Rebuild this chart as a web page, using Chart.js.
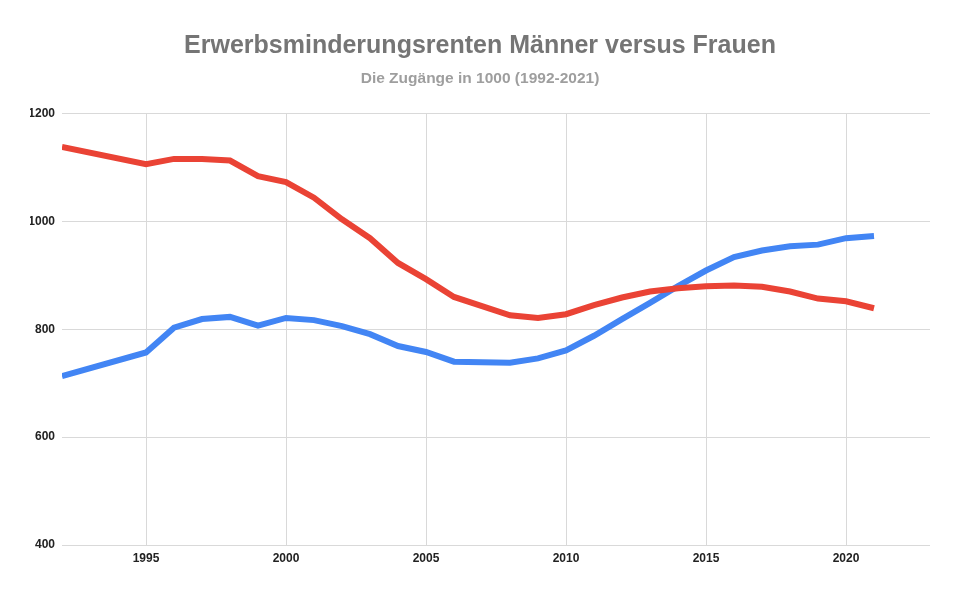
<!DOCTYPE html>
<html>
<head>
<meta charset="utf-8">
<script src="https://cdn.jsdelivr.net/npm/chart.js@4.4.1/dist/chart.umd.min.js"></script>
<style>
  html, body { margin: 0; padding: 0; background: #fff; }
  #wrap { width: 960px; height: 594px; }
</style>
</head>
<body>
<div id="wrap"><canvas id="c" width="960" height="594"></canvas></div>
<script>
const years = [1992, 1995, 1996, 1997, 1998, 1999, 2000, 2001, 2002, 2003, 2004, 2005, 2006,
  2007, 2008, 2009, 2010, 2011, 2012, 2013, 2014, 2015, 2016, 2017, 2018, 2019, 2020, 2021];
const maenner = [1138, 1106, 1116, 1116, 1113, 1084, 1073, 1044, 1004, 969, 923, 893, 860,
  843, 826, 821, 828, 845, 859, 870, 876, 880, 881, 879, 870, 857, 852, 839];
const frauen = [713, 757, 803, 819, 823, 807, 821, 817, 806, 791, 769, 758, 740,
  739, 738, 746, 761, 788, 819, 849, 880, 909, 934, 946, 954, 957, 969, 973];
const xTicks = [1995, 2000, 2005, 2010, 2015, 2020];
const yTicks = [400, 600, 800, 1000, 1200];

const toPoints = vals => years.map((y, i) => ({ x: y, y: vals[i] }));
const tickFont = { family: 'Liberation Sans, Arial, sans-serif', size: 12, weight: 'bold' };

new Chart(document.getElementById('c'), {
  type: 'line',
  data: {
    datasets: [
      {
        label: 'Männer',
        data: toPoints(maenner),
        borderColor: '#EA4335',
        borderWidth: 6,
        pointRadius: 0,
        tension: 0
      },
      {
        label: 'Frauen',
        data: toPoints(frauen),
        borderColor: '#4285F4',
        borderWidth: 6,
        pointRadius: 0,
        tension: 0
      }
    ]
  },
  options: {
    responsive: false,
    animation: false,
    // symmetric side padding keeps the title centred on the canvas
    layout: { padding: { left: 30, right: 30, top: 0, bottom: 0 } },
    plugins: {
      legend: { display: false },
      tooltip: { enabled: false },
      title: {
        display: true,
        text: 'Erwerbsminderungsrenten Männer versus Frauen',
        color: '#757575',
        font: { family: 'Liberation Sans, Arial, sans-serif', size: 25, weight: 'bold' },
        padding: { top: 31, bottom: 8 }
      },
      subtitle: {
        display: true,
        text: 'Die Zugänge in 1000 (1992-2021)',
        color: '#9e9e9e',
        font: { family: 'Liberation Sans, Arial, sans-serif', size: 15.5, weight: 'bold' },
        padding: { top: 0, bottom: 26 }
      }
    },
    scales: {
      x: {
        type: 'linear',
        min: 1992,
        max: 2023,
        afterBuildTicks: s => { s.ticks = xTicks.map(v => ({ value: v })); },
        afterFit: s => { s.height = 49; },
        ticks: {
          color: '#222',
          font: tickFont,
          padding: 6,
          maxRotation: 0,
          callback: v => String(v)
        },
        grid: { color: '#d9d9d9', lineWidth: 1, drawTicks: false },
        border: { display: false }
      },
      y: {
        min: 400,
        max: 1200,
        afterBuildTicks: s => { s.ticks = yTicks.map(v => ({ value: v })); },
        afterFit: s => { s.width = 32; },
        ticks: {
          color: '#222',
          font: tickFont,
          padding: 7,
          callback: v => String(v)
        },
        grid: { color: '#d9d9d9', lineWidth: 1, drawTicks: false },
        border: { display: false }
      }
    }
  }
});
</script>
</body>
</html>
